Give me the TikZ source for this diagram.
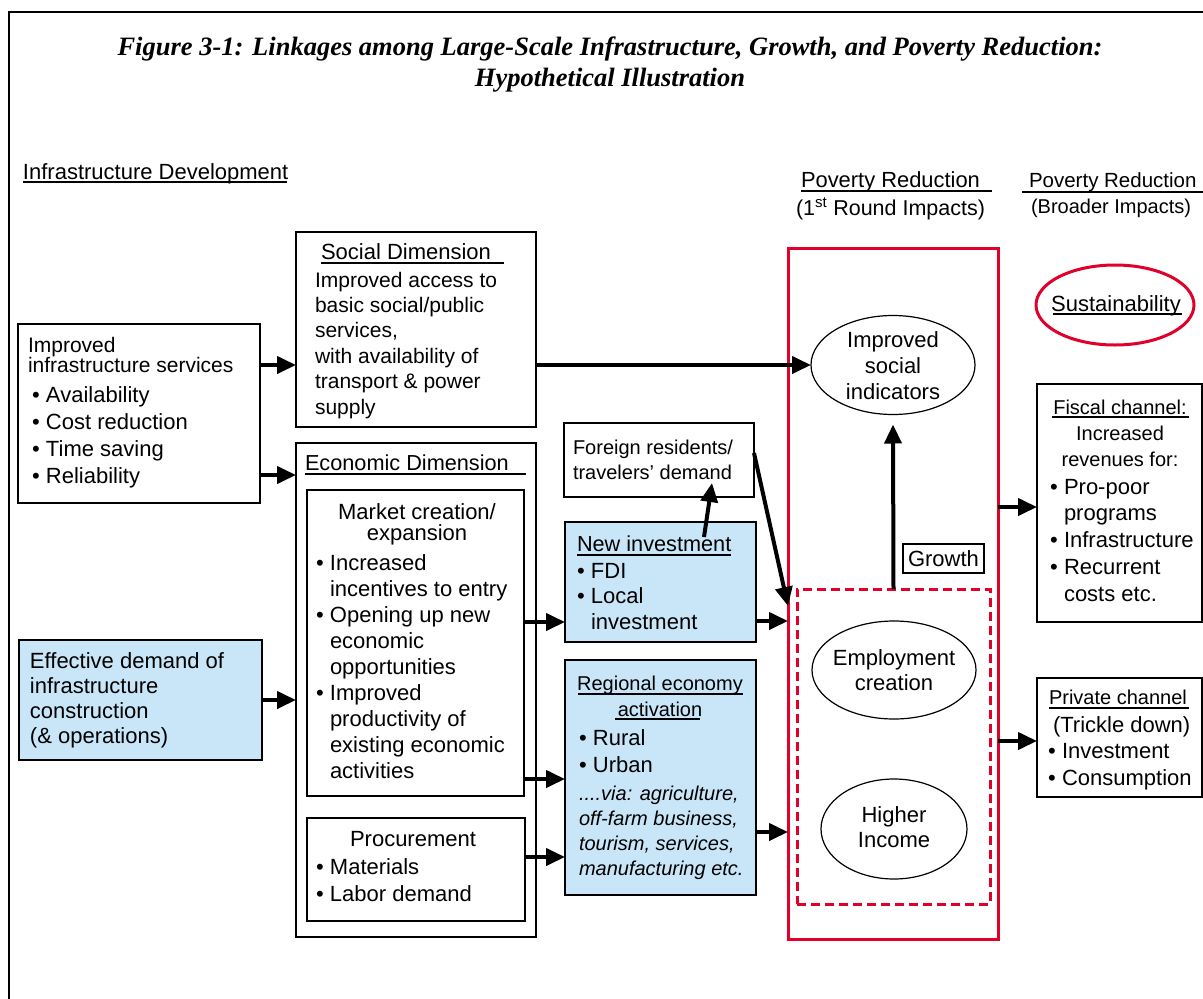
\documentclass[tikz,border=0pt]{standalone}
\usepackage{fontspec}
\setmainfont{Liberation Sans}
\newfontfamily\titlefont{Liberation Serif}
\usetikzlibrary{arrows.meta,shapes.geometric}
\definecolor{lblue}{RGB}{201,230,248}
\definecolor{dred}{RGB}{224,0,42}
\newcommand\st{\rule{0pt}{16pt}}
\newcommand\bul{\makebox[14pt][l]{\textbullet}}
\newcommand\ind{\hspace*{14pt}}
\begin{document}
\begin{tikzpicture}[x=1pt,y=-1pt,
  box/.style={draw, line width=2.5pt, anchor=north west, inner sep=0pt, outer sep=0pt},
  ibox/.style={draw, line width=1.5pt, anchor=north west, inner sep=0pt, outer sep=0pt},
  txt/.style={inner sep=0pt, outer sep=0pt, font=\fontsize{20}{#1}\selectfont, align=left, anchor=north west},
  txt/.default=26,
  lt/.style={font=\fontsize{22}{#1}\selectfont},
  lt/.default=26,
  arr/.style={line width=4pt, -{Triangle[length=19pt,width=17pt]}},
  ul/.style={line width=1.8pt},
  ell/.style={draw, ellipse, line width=1.2pt, inner sep=0pt, outer sep=0pt},
  redline/.style={draw=dred, line width=3pt}
]
\useasboundingbox (0,0) rectangle (1203,999);
% frame
\draw[line width=2pt] (9,999) -- (9,12) -- (1203,12);

% title
\node[inner sep=0pt, anchor=north, align=center, font=\titlefont\bfseries\itshape\fontsize{26.5}{31}\selectfont] (title) at (610,35) {\rule{0pt}{20pt}Figure 3-1: Linkages among Large-Scale Infrastructure, Growth, and Poverty Reduction:\\Hypothetical Illustration};

% headers
\node[txt, lt] (infdev) at (23,163) {\st Infrastructure Development};
\draw[ul] (23,182) -- (287,182);
\node[txt, font=\fontsize{21.9}{26}\selectfont] (pv1) at (801,171) {\st Poverty Reduction};
\draw[ul] (801,191) -- (992,191);
\node[txt, font=\fontsize{21.5}{26}\selectfont] (pv1b) at (796,198) {\st(1\textsuperscript{st} Round Impacts)};
\node[txt, font=\fontsize{20.5}{26}\selectfont] (pv2) at (1029,171) {\st Poverty Reduction};
\draw[ul] (1022,192) -- (1203,192);
\node[txt] (pv2b) at (1031,197) {\st(Broader Impacts)};

% left boxes
\node[box, minimum width=242pt, minimum height=179pt] (infra) at (18,324) {};
\node[txt, font=\fontsize{21}{20}\selectfont] (infraH) at (28,336) {\st Improved\\infrastructure services};
\node[txt, lt=27] (infraB) at (32,386) {\st\bul Availability\\\bul Cost reduction\\\bul Time saving\\\bul Reliability};

\node[box, fill=lblue, minimum width=243pt, minimum height=120pt] (eff) at (19,640) {};
\node[txt, lt=25] (effX) at (30,652) {\st Effective demand of\\infrastructure\\construction\\(\& operations)};

% social dimension
\node[box, minimum width=240pt, minimum height=195pt] (social) at (296,232) {};
\node[txt, lt] (socT) at (321,243) {\st Social Dimension};
\draw[ul] (321,263) -- (504,263);
\node[txt, font=\fontsize{21}{25.4}\selectfont] (socX) at (315,271) {\st Improved access to\\basic social/public\\services,\\with availability of\\transport \& power\\supply};

% economic dimension
\node[box, minimum width=240pt, minimum height=494pt] (econ) at (296,443) {};
\node[txt, font=\fontsize{21.7}{26}\selectfont] (ecoT) at (305,454) {\st Economic Dimension};
\draw[ul] (305,474) -- (526,474);
\node[ibox, minimum width=217pt, minimum height=306pt] (market) at (307,490) {};
\node[txt, lt=21, align=center, anchor=north] (mktH) at (417,503) {\st Market creation/\\expansion};
\node[txt, lt=26] (mktB) at (316,554) {\st\bul Increased\\\ind incentives to entry\\\bul Opening up new\\\ind economic\\\ind opportunities\\\bul Improved\\\ind productivity of\\\ind existing economic\\\ind activities};
\node[ibox, minimum width=218pt, minimum height=103pt] (proc) at (307,818) {};
\node[txt, lt, anchor=north] (procH) at (413,830) {\st Procurement};
\node[txt, lt=27] (procB) at (316,858) {\st\bul Materials\\\bul Labor demand};

% middle boxes
\node[box, minimum width=190pt, minimum height=74pt] (foreign) at (564,423) {};
\node[txt=25] (fgX) at (573,438) {\st Foreign residents/\\travelers' demand};

\node[box, fill=lblue, minimum width=191pt, minimum height=120pt] (newinv) at (565,522) {};
\node[txt, font=\fontsize{21.7}{26}\selectfont] (niT) at (577,535) {\st New investment};
\draw[ul] (577,555) -- (731,555);
\node[txt, lt=25.5] (niB) at (577,562) {\st\bul FDI\\\bul Local\\\ind investment};

\node[box, fill=lblue, minimum width=191pt, minimum height=235pt] (regional) at (565,660) {};
\node[txt=26, align=center, anchor=north] (rgT) at (660,674) {\st Regional economy\\activation};
\draw[ul] (578,694) -- (743,694);
\draw[ul] (615,719) -- (700,719);
\node[txt, lt=27] (rgB) at (579,729) {\st\bul Rural\\\bul Urban};
\node[txt=25, font=\fontsize{20}{25}\selectfont\itshape] (rgI) at (579,784) {\st ....via: agriculture,\\off-farm business,\\tourism, services,\\manufacturing etc.};

% poverty reduction 1st round
\node[redline, anchor=north west, inner sep=0pt, outer sep=0pt, minimum width=210pt, minimum height=691pt] (redbox) at (788,248) {};
\node[draw=dred, line width=3pt, dash pattern=on 9pt off 5pt, anchor=north west, inner sep=0pt, outer sep=0pt, minimum width=193pt, minimum height=315pt] (dashed) at (797,589) {};
\node[ell, minimum width=164pt, minimum height=99pt] (socind) at (893,365) {};
\node[txt, lt=26, align=center, anchor=north] (siX) at (893,331) {\st Improved\\social\\indicators};
\node[ell, minimum width=164pt, minimum height=98pt] (employ) at (894,670) {};
\node[txt, lt=25, align=center, anchor=north] (emX) at (894,649) {\st Employment\\creation};
\node[ell, minimum width=146pt, minimum height=100pt] (income) at (894,829) {};
\node[txt, lt=25, align=center, anchor=north] (inX) at (894,806) {\st Higher\\Income};
\node[box, line width=2pt, minimum width=81pt, minimum height=29pt, font=\fontsize{22}{24}\selectfont] (growth) at (903,544) {Growth};

% broader impacts
\node[ell, draw=dred, line width=3pt, minimum width=158pt, minimum height=80pt] (sust) at (1115,305) {};
\node[txt, lt, anchor=north] (sustX) at (1116,295) {\st Sustainability};
\draw[ul] (1053,314) -- (1182,314);

\node[box, minimum width=165pt, minimum height=238pt] (fiscal) at (1037,384) {};
\node[txt=26, align=center, anchor=north] (fcH) at (1120,398) {\st Fiscal channel:\\Increased\\revenues for:};
\draw[ul] (1052,417) -- (1189,417);
\node[txt, lt=26.75] (fcB) at (1050,478) {\st\bul Pro-poor\\\ind programs\\\bul Infrastructure\\\bul Recurrent\\\ind costs etc.};

\node[box, minimum width=165pt, minimum height=119pt] (private) at (1037,678) {};
\node[txt] (pvH) at (1049,688) {\st Private channel};
\draw[ul] (1049,708) -- (1189,708);
\node[txt, lt] (pvT) at (1053,716) {\st(Trickle down)};
\node[txt, lt=27] (pvB) at (1048,742) {\st\bul Investment\\\bul Consumption};

% connector rows
\coordinate (ya) at (0,365);
\coordinate (yb) at (0,475);
\coordinate (yc) at (0,700);
\coordinate (yd) at (0,622);
\coordinate (ye) at (0,779);
\coordinate (yf) at (0,857);
\coordinate (yg) at (0,453);
\coordinate (yh) at (0,606);
\coordinate (yi) at (0,621);
\coordinate (yj) at (0,832);
\coordinate (yk) at (0,507);
\coordinate (yl) at (0,741);
\coordinate (niA) at (704,537);
\coordinate (fgA) at (712,483);

% connectors
\draw[arr] (infra.east |- ya) -- (social.west |- ya);
\draw[arr] (infra.east |- yb) -- (econ.west |- yb);
\draw[arr] (eff.east |- yc) -- (econ.west |- yc);
\draw[arr] (market.east |- yd) -- (newinv.west |- yd);
\draw[arr] (market.east |- ye) -- (regional.west |- ye);
\draw[arr] (proc.east |- yf) -- (regional.west |- yf);
\draw[arr] (niA) -- (fgA);
\draw[arr] (foreign.east |- yg) -- (redbox.west |- yh);
\draw[arr] (newinv.east |- yi) -- (redbox.west |- yi);
\draw[arr] (regional.east |- yj) -- (redbox.west |- yj);
\draw[arr] (social.east |- ya) -- (socind.west);
\draw[arr] (dashed.north) -- ([yshift=-10pt]socind.south);
\draw[arr] (redbox.east |- yk) -- (fiscal.west |- yk);
\draw[arr] (redbox.east |- yl) -- (private.west |- yl);
\end{tikzpicture}
\end{document}
